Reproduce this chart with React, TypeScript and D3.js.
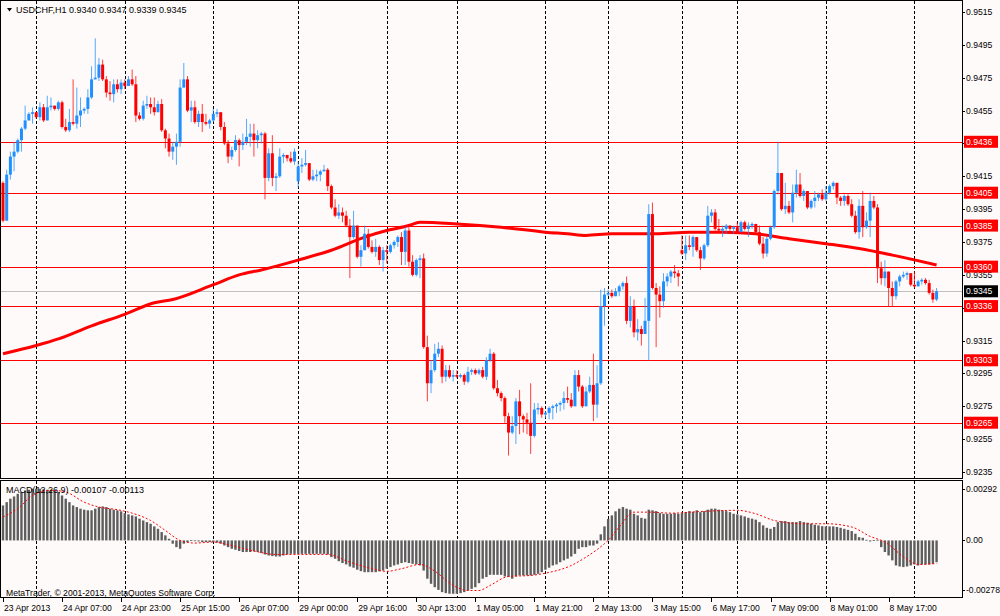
import React from "react";
import * as d3 from "d3";

document.body.style.margin = "0";

// ---------- data ----------
const headerText = "USDCHF,H1 0.9340 0.9347 0.9339 0.9345";
const macdText = "MACD(12,26,9) -0.00107 -0.00113";
const copyrightText = "MetaTrader, \u00A9 2001-2013, MetaQuotes Software Corp.";

const firstOpen = 0.9411;
const gapOpens: Record<number, number> = { 80: 0.9412, 184: 0.937 };

const closes = [
  0.9388,0.9416,0.9427,0.9430,0.9437,0.9444,0.9449,0.9453,0.9454,0.9451,
  0.9457,0.9449,0.9457,0.9458,0.9456,0.9460,0.9445,0.9443,0.9448,0.9447,
  0.9452,0.9455,0.9456,0.9463,0.9474,0.9475,0.9483,0.9474,0.9466,0.9465,
  0.9471,0.9468,0.9472,0.9470,0.9474,0.9471,0.9452,0.9450,0.9458,0.9459,
  0.9457,0.9454,0.9459,0.9443,0.9438,0.9430,0.9433,0.9436,0.9469,0.9474,
  0.9455,0.9457,0.9448,0.9453,0.9448,0.9447,0.9449,0.9453,0.9454,0.9445,
  0.9435,0.9427,0.9431,0.9437,0.9434,0.9436,0.9439,0.9441,0.9437,0.9440,
  0.9441,0.9414,0.9429,0.9414,0.9415,0.9427,0.9428,0.9426,0.9424,0.9430,
  0.9421,0.9422,0.9423,0.9413,0.9415,0.9416,0.9418,0.9419,0.9409,0.9396,
  0.9391,0.9393,0.9391,0.9385,0.9378,0.9385,0.9366,0.9370,0.9380,0.9372,
  0.9369,0.9372,0.9364,0.9370,0.9369,0.9373,0.9375,0.9378,0.9369,0.9382,
  0.9363,0.9355,0.9364,0.9365,0.9311,0.9289,0.9297,0.9307,0.9310,0.9293,
  0.9297,0.9293,0.9294,0.9293,0.9294,0.9290,0.9296,0.9297,0.9295,0.9297,
  0.9293,0.9303,0.9307,0.9286,0.9283,0.9280,0.9269,0.9259,0.9263,0.9278,
  0.9269,0.9267,0.9265,0.9257,0.9273,0.9274,0.9270,0.9271,0.9274,0.9275,
  0.9276,0.9277,0.9280,0.9279,0.9275,0.9294,0.9287,0.9275,0.9284,0.9288,
  0.9276,0.9289,0.9336,0.9343,0.9344,0.9342,0.9345,0.9348,0.9350,0.9327,
  0.9336,0.9320,0.9322,0.9319,0.9327,0.9392,0.9347,0.9343,0.9339,0.9351,
  0.9354,0.9357,0.9356,0.9354,0.9368,0.9373,0.9372,0.9378,0.9370,0.9365,
  0.9373,0.9391,0.9393,0.9383,0.9382,0.9383,0.9385,0.9383,0.9384,0.9381,
  0.9387,0.9383,0.9385,0.9386,0.9381,0.9374,0.9368,0.9377,0.9384,0.9406,
  0.9417,0.9395,0.9397,0.9393,0.9405,0.9410,0.9403,0.9406,0.9396,0.9400,
  0.9402,0.9404,0.9401,0.9405,0.9409,0.9411,0.9402,0.9400,0.9403,0.9398,
  0.9391,0.9381,0.9397,0.9384,0.9388,0.9400,0.9396,0.9359,0.9353,0.9357,
  0.9347,0.9342,0.9351,0.9354,0.9355,0.9356,0.9349,0.9348,0.9351,0.9352,
  0.9350,0.9344,0.9340,0.9345,
];

const highs = [
  0.9412,0.9419,0.9430,0.9436,0.9438,0.9445,0.9458,0.9454,0.9457,0.9452,
  0.9460,0.9459,0.9464,0.9463,0.9458,0.9461,0.9461,0.9450,0.9456,0.9474,
  0.9469,0.9463,0.9457,0.9468,0.9482,0.9499,0.9487,0.9486,0.9476,0.9473,
  0.9474,0.9474,0.9474,0.9474,0.9476,0.9480,0.9476,0.9454,0.9461,0.9464,
  0.9463,0.9463,0.9461,0.9462,0.9444,0.9441,0.9436,0.9441,0.9474,0.9484,
  0.9476,0.9461,0.9461,0.9455,0.9459,0.9453,0.9450,0.9456,0.9456,0.9452,
  0.9448,0.9437,0.9433,0.9440,0.9438,0.9441,0.9450,0.9447,0.9447,0.9443,
  0.9442,0.9442,0.9432,0.9440,0.9417,0.9432,0.9429,0.9428,0.9430,0.9432,
  0.9424,0.9426,0.9431,0.9423,0.9419,0.9419,0.9419,0.9422,0.9420,0.9410,
  0.9401,0.9398,0.9396,0.9394,0.9389,0.9394,0.9385,0.9373,0.9385,0.9383,
  0.9376,0.9377,0.9373,0.9372,0.9373,0.9374,0.9376,0.9379,0.9381,0.9384,
  0.9384,0.9367,0.9365,0.9367,0.9368,0.9318,0.9303,0.9313,0.9314,0.9312,
  0.9300,0.9300,0.9297,0.9297,0.9295,0.9295,0.9299,0.9298,0.9298,0.9298,
  0.9299,0.9305,0.9310,0.9308,0.9291,0.9284,0.9281,0.9271,0.9269,0.9280,
  0.9285,0.9270,0.9271,0.9289,0.9277,0.9277,0.9275,0.9272,0.9275,0.9276,
  0.9277,0.9278,0.9284,0.9287,0.9283,0.9297,0.9297,0.9288,0.9287,0.9293,
  0.9307,0.9300,0.9346,0.9347,0.9346,0.9346,0.9347,0.9349,0.9351,0.9354,
  0.9342,0.9340,0.9328,0.9324,0.9341,0.9398,0.9399,0.9350,0.9348,0.9356,
  0.9356,0.9358,0.9361,0.9358,0.9379,0.9379,0.9379,0.9379,0.9378,0.9372,
  0.9374,0.9397,0.9395,0.9395,0.9389,0.9385,0.9386,0.9385,0.9385,0.9387,
  0.9388,0.9388,0.9387,0.9387,0.9386,0.9385,0.9378,0.9378,0.9385,0.9407,
  0.9436,0.9417,0.9411,0.9400,0.9410,0.9419,0.9417,0.9407,0.9406,0.9401,
  0.9406,0.9405,0.9407,0.9409,0.9410,0.9412,0.9411,0.9403,0.9404,0.9404,
  0.9401,0.9394,0.9401,0.9406,0.9393,0.9405,0.9403,0.9398,0.9363,0.9364,
  0.9357,0.9351,0.9352,0.9355,0.9357,0.9357,0.9356,0.9357,0.9352,0.9353,
  0.9353,0.9352,0.9346,0.9347,
];

const lows = [
  0.9387,0.9388,0.9413,0.9418,0.9429,0.9430,0.9443,0.9449,0.9447,0.9450,
  0.9449,0.9448,0.9449,0.9455,0.9455,0.9455,0.9444,0.9442,0.9442,0.9446,
  0.9444,0.9445,0.9453,0.9453,0.9462,0.9474,0.9473,0.9473,0.9463,0.9461,
  0.9460,0.9466,0.9465,0.9468,0.9471,0.9470,0.9448,0.9449,0.9449,0.9456,
  0.9453,0.9452,0.9454,0.9442,0.9432,0.9427,0.9425,0.9422,0.9433,0.9469,
  0.9454,0.9448,0.9447,0.9445,0.9442,0.9446,0.9444,0.9448,0.9451,0.9443,
  0.9434,0.9423,0.9425,0.9430,0.9421,0.9431,0.9434,0.9433,0.9427,0.9432,
  0.9435,0.9401,0.9412,0.9409,0.9406,0.9414,0.9423,0.9424,0.9423,0.9422,
  0.9408,0.9417,0.9421,0.9412,0.9412,0.9412,0.9412,0.9418,0.9406,0.9395,
  0.9390,0.9389,0.9387,0.9384,0.9353,0.9377,0.9365,0.9360,0.9370,0.9371,
  0.9368,0.9366,0.9361,0.9357,0.9362,0.9368,0.9371,0.9372,0.9361,0.9361,
  0.9360,0.9354,0.9354,0.9353,0.9310,0.9278,0.9283,0.9296,0.9305,0.9289,
  0.9290,0.9292,0.9290,0.9292,0.9292,0.9288,0.9289,0.9294,0.9294,0.9294,
  0.9292,0.9291,0.9302,0.9285,0.9281,0.9278,0.9265,0.9245,0.9258,0.9252,
  0.9258,0.9259,0.9258,0.9246,0.9256,0.9270,0.9268,0.9268,0.9267,0.9267,
  0.9271,0.9272,0.9273,0.9277,0.9274,0.9275,0.9284,0.9274,0.9275,0.9283,
  0.9266,0.9268,0.9288,0.9324,0.9342,0.9341,0.9342,0.9342,0.9346,0.9325,
  0.9323,0.9317,0.9315,0.9312,0.9319,0.9303,0.9346,0.9311,0.9329,0.9335,
  0.9348,0.9350,0.9353,0.9348,0.9367,0.9364,0.9370,0.9366,0.9369,0.9358,
  0.9364,0.9372,0.9387,0.9382,0.9381,0.9378,0.9380,0.9380,0.9380,0.9380,
  0.9381,0.9382,0.9378,0.9383,0.9380,0.9373,0.9365,0.9366,0.9376,0.9383,
  0.9404,0.9394,0.9392,0.9392,0.9387,0.9402,0.9402,0.9400,0.9395,0.9395,
  0.9396,0.9400,0.9400,0.9400,0.9404,0.9407,0.9398,0.9397,0.9397,0.9397,
  0.9390,0.9380,0.9377,0.9378,0.9383,0.9378,0.9395,0.9350,0.9349,0.9348,
  0.9336,0.9336,0.9340,0.9348,0.9353,0.9352,0.9348,0.9347,0.9348,0.9349,
  0.9349,0.9343,0.9338,0.9339,
];

// moving average line, read at selected bars
const maBars = [0,9,15,24,33,41,46,57,64,70,80,89,98,104,110,113,123,135,147,153,158,165,177,186,195,204,213,223,232,241,253];
const maValues = [0.9307,0.9312,0.9316,0.9324,0.9331,0.9338,0.9340,0.9349,0.9355,0.9358,0.9364,0.9370,0.9378,0.9382,0.9385,0.9387,0.9386,0.9384,0.9381,0.9380,0.9379,0.9380,0.9380,0.9381,0.9381,0.9380,0.9377,0.9374,0.9371,0.9367,0.9361];

const levelLines = [0.9436, 0.9405, 0.9385, 0.936, 0.9336, 0.9303, 0.9265];
const bidPrice = 0.9345;
const priceTicks = [0.9515,0.9495,0.9475,0.9455,0.9435,0.9415,0.9395,0.9375,0.9355,0.9335,0.9315,0.9295,0.9275,0.9255,0.9235];

const timeLabels = ["23 Apr 2013","24 Apr 07:00","24 Apr 23:00","25 Apr 15:00","26 Apr 07:00","29 Apr 00:00","29 Apr 16:00","30 Apr 13:00","1 May 05:00","1 May 21:00","2 May 13:00","3 May 15:00","6 May 17:00","7 May 09:00","8 May 01:00","8 May 17:00"];
const timeLabelBars = [0,16,32,48,64,80,96,112,128,144,160,176,192,208,224,240];
const dayGridBars = [9,33,57,80,104,123,147,164,184,199,223,247];

const macdHist = [
  0.00172,0.00188,0.00205,0.00216,0.00229,0.00238,0.00246,0.00249,0.00254,0.00254,
  0.00254,0.00251,0.00249,0.00249,0.00246,0.00238,0.00221,0.00205,0.00188,0.00172,
  0.00164,0.00156,0.00151,0.00148,0.00148,0.00156,0.00164,0.00167,0.00164,0.00156,
  0.00151,0.00148,0.00143,0.00134,0.00128,0.00123,0.00118,0.00107,0.00098,0.00090,
  0.00082,0.00069,0.00057,0.00041,0.00025,0.00008,-0.00016,-0.00033,-0.00041,-0.00016,
  -0.00008,0.00001,-0.00003,-0.00005,-0.00008,-0.00008,-0.00008,-0.00008,-0.00011,-0.00016,
  -0.00025,-0.00033,-0.00041,-0.00046,-0.00052,-0.00057,-0.00057,-0.00057,-0.00054,-0.00057,
  -0.00062,-0.00069,-0.00074,-0.00077,-0.00079,-0.00079,-0.00074,-0.00069,-0.00066,-0.00066,
  -0.00066,-0.00066,-0.00066,-0.00066,-0.00066,-0.00066,-0.00066,-0.00066,-0.00069,-0.00082,
  -0.00090,-0.00102,-0.00111,-0.00118,-0.00128,-0.00134,-0.00144,-0.00151,-0.00156,-0.00156,
  -0.00156,-0.00156,-0.00152,-0.00148,-0.00139,-0.00131,-0.00123,-0.00118,-0.00111,-0.00107,
  -0.00111,-0.00115,-0.00118,-0.00123,-0.00148,-0.00188,-0.00213,-0.00230,-0.00243,-0.00254,
  -0.00259,-0.00262,-0.00262,-0.00262,-0.00259,-0.00254,-0.00246,-0.00238,-0.00230,-0.00210,
  -0.00188,-0.00180,-0.00169,-0.00169,-0.00169,-0.00169,-0.00177,-0.00180,-0.00188,-0.00177,
  -0.00172,-0.00172,-0.00172,-0.00172,-0.00169,-0.00164,-0.00156,-0.00144,-0.00134,-0.00123,
  -0.00118,-0.00107,-0.00098,-0.00090,-0.00079,-0.00066,-0.00041,-0.00033,-0.00033,-0.00025,
  -0.00025,-0.00016,0.00030,0.00069,0.00105,0.00123,0.00143,0.00156,0.00164,0.00156,
  0.00151,0.00131,0.00123,0.00111,0.00107,0.00151,0.00148,0.00144,0.00134,0.00131,
  0.00131,0.00131,0.00134,0.00131,0.00134,0.00139,0.00144,0.00141,0.00148,0.00139,
  0.00144,0.00151,0.00156,0.00156,0.00151,0.00148,0.00144,0.00139,0.00131,0.00128,
  0.00123,0.00118,0.00111,0.00107,0.00102,0.00090,0.00074,0.00062,0.00057,0.00066,
  0.00090,0.00095,0.00095,0.00090,0.00090,0.00090,0.00095,0.00090,0.00087,0.00082,
  0.00077,0.00074,0.00070,0.00069,0.00069,0.00069,0.00066,0.00062,0.00057,0.00052,
  0.00046,0.00033,0.00016,0.00013,0.00003,-0.00005,0.00002,0.00003,-0.00033,-0.00057,
  -0.00074,-0.00098,-0.00123,-0.00128,-0.00131,-0.00128,-0.00123,-0.00118,-0.00123,-0.00118,
  -0.00118,-0.00118,-0.00115,-0.00107,
];

const signalBars = [0,4,8,13,17,22,26,31,35,40,44,48,52,57,62,68,74,80,88,94,99,104,108,113,117,122,126,129,132,137,143,147,154,158,163,164,167,171,175,181,190,199,204,209,217,223,230,235,239,244,248,253];
const signalValues = [0.00115,0.00156,0.00221,0.00246,0.00238,0.00188,0.00164,0.00151,0.00134,0.00098,0.00049,0.0,-0.00013,-0.00008,-0.00025,-0.00052,-0.00069,-0.00069,-0.00069,-0.00107,-0.00134,-0.00152,-0.00139,-0.00118,-0.00151,-0.00221,-0.00246,-0.00246,-0.00221,-0.00177,-0.00172,-0.00161,-0.00123,-0.00082,-0.00016,0.0,0.00066,0.00139,0.00139,0.00134,0.00143,0.00148,0.00131,0.00098,0.00082,0.00082,0.00066,0.0002,-0.00008,-0.00079,-0.00118,-0.00113];

const macdMax = 0.00292;
const macdMin = -0.00278;
const macdTicks = [0.00292, 0.0, -0.00278];

// ---------- layout ----------
const W = 1000;
const H = 616;
const left = 1;
const right = 962;
const mainTop = 1;
const mainBottom = 478;
const macdTop = 481;
const macdBottom = 597;
const FONT = "'Liberation Sans', Arial, 'DejaVu Sans', sans-serif";
const BULL = "#1E90FF";
const BEAR = "#FF0000";
const BG = "#FFFAFA";
const AXIS_FS = 8.6;

export default function App() {
  const n = closes.length;
  const x = d3.scaleLinear().domain([0, n - 1]).range([3, 3 + (n - 1) * 3.69]);
  const y = d3.scaleLinear().domain([0.9235, 0.9515]).range([472, 12]);
  const ym = d3.scaleLinear().domain([macdMin, macdMax]).range([macdBottom, macdTop]);

  const opens = closes.map((c, i) =>
    i === 0 ? firstOpen : gapOpens[i] !== undefined ? gapOpens[i] : closes[i - 1]
  );

  const maPath =
    d3
      .line<number>()
      .x((_, k) => x(maBars[k]))
      .y((v) => y(v))
      .curve(d3.curveMonotoneX)(maValues) || "";

  const sigPath =
    d3
      .line<number>()
      .x((_, k) => x(signalBars[k]))
      .y((v) => ym(v))
      .curve(d3.curveMonotoneX)(signalValues) || "";

  const fmtPrice = d3.format(".4f");
  const fmtMacd = (v: number) =>
    v === 0 ? "0.00" : (v < 0 ? "-" : "") + Math.abs(v).toFixed(5);

  return (
    <svg width={W} height={H} style={{ display: "block", background: BG }} fontFamily={FONT}>
      <defs>
        <clipPath id="mainClip">
          <rect x={left} y={mainTop} width={right - left} height={mainBottom - mainTop} />
        </clipPath>
        <clipPath id="macdClip">
          <rect x={left} y={macdTop} width={right - left} height={macdBottom - macdTop} />
        </clipPath>
      </defs>
      <rect x={0} y={0} width={W} height={H} fill={BG} />

      {/* vertical day grid */}
      {dayGridBars.map((b) => (
        <line
          key={"g" + b}
          x1={Math.round(x(b)) + 0.5}
          x2={Math.round(x(b)) + 0.5}
          y1={mainTop}
          y2={macdBottom}
          stroke="#000"
          strokeWidth={1}
          strokeDasharray="3,2"
        />
      ))}

      <g clipPath="url(#mainClip)">
        {/* horizontal levels */}
        {levelLines.map((p) => (
          <line key={"l" + p} x1={left} x2={right} y1={Math.round(y(p)) + 0.5} y2={Math.round(y(p)) + 0.5} stroke="#FF0000" strokeWidth={1} />
        ))}
        <line x1={left} x2={right} y1={Math.round(y(bidPrice)) + 0.5} y2={Math.round(y(bidPrice)) + 0.5} stroke="#C0C0C0" strokeWidth={1} />

        {/* moving average */}
        <path d={maPath} fill="none" stroke="#FF0000" strokeWidth={3} />

        {/* candles */}
        {closes.map((c, i) => {
          const o = opens[i];
          const bull = c >= o;
          const col = bull ? BULL : BEAR;
          const cx = x(i);
          const top = y(Math.max(o, c));
          const bot = y(Math.min(o, c));
          const hi = y(Math.max(highs[i], o, c));
          const lo = y(Math.min(lows[i], o, c));
          return (
            <g key={"c" + i}>
              <line x1={cx} x2={cx} y1={hi} y2={lo} stroke={col} strokeWidth={1} opacity={0.75} />
              <rect x={cx - 1.5} y={top} width={3} height={Math.max(1, bot - top)} fill={col} />
            </g>
          );
        })}
      </g>

      {/* MACD panel */}
      <g clipPath="url(#macdClip)">
        {macdHist.map((v, i) => {
          const y0 = ym(0);
          const y1 = ym(v);
          return (
            <rect
              key={"m" + i}
              x={x(i) - 1.2}
              y={Math.min(y0, y1)}
              width={2.4}
              height={Math.max(0.8, Math.abs(y1 - y0))}
              fill="#5E5E5E"
            />
          );
        })}
        <path d={sigPath} fill="none" stroke="#FF0000" strokeWidth={1} strokeDasharray="2,2" />
      </g>

      {/* frames */}
      <rect x={left - 0.5} y={mainTop - 0.5} width={right - left + 1} height={mainBottom - mainTop + 1} fill="none" stroke="#000" strokeWidth={1} />
      <rect x={left - 0.5} y={macdTop - 0.5} width={right - left + 1} height={macdBottom - macdTop + 1} fill="none" stroke="#000" strokeWidth={1} />

      {/* price axis */}
      {priceTicks.map((p) => (
        <g key={"t" + p}>
          <line x1={right} x2={right + 3} y1={Math.round(y(p)) + 0.5} y2={Math.round(y(p)) + 0.5} stroke="#000" />
          <text x={right + 4} y={y(p)} dy="0.35em" fontSize={AXIS_FS} fill="#000">
            {fmtPrice(p)}
          </text>
        </g>
      ))}
      {levelLines.map((p) => (
        <g key={"lt" + p}>
          <rect x={right + 2} y={y(p) - 6} width={34} height={12} fill="#FF0000" />
          <text x={right + 4} y={y(p)} dy="0.35em" fontSize={AXIS_FS} fill="#FFF">
            {fmtPrice(p)}
          </text>
        </g>
      ))}
      <rect x={right + 2} y={y(bidPrice) - 6} width={34} height={12} fill="#000" />
      <text x={right + 4} y={y(bidPrice)} dy="0.35em" fontSize={AXIS_FS} fill="#FFF">
        {fmtPrice(bidPrice)}
      </text>

      {/* MACD axis */}
      {macdTicks.map((v, k) => {
        const ty = k === 0 ? macdTop + 8 : k === 2 ? macdBottom - 7 : ym(v);
        return (
          <g key={"mt" + k}>
            <line x1={right} x2={right + 3} y1={Math.round(ty) + 0.5} y2={Math.round(ty) + 0.5} stroke="#000" />
            <text x={right + 4} y={ty} dy="0.35em" fontSize={AXIS_FS} fill="#000">
              {fmtMacd(v)}
            </text>
          </g>
        );
      })}

      {/* time axis */}
      {timeLabelBars.map((b, k) => (
        <g key={"x" + b}>
          <line x1={Math.round(x(b)) + 0.5} x2={Math.round(x(b)) + 0.5} y1={macdBottom} y2={macdBottom + 5} stroke="#000" />
          <text x={x(b) + 1} y={611} fontSize={AXIS_FS} fill="#000">
            {timeLabels[k]}
          </text>
        </g>
      ))}

      {/* texts */}
      <path d="M7,8 L12,8 L9.5,11.5 Z" fill="#000" />
      <text x={16} y={13} fontSize={9} fill="#000">
        {headerText}
      </text>
      <text x={6} y={493} fontSize={9} fill="#000">
        {macdText}
      </text>
      <text x={6} y={596} fontSize={AXIS_FS} fill="#000">
        {copyrightText}
      </text>
    </svg>
  );
}
